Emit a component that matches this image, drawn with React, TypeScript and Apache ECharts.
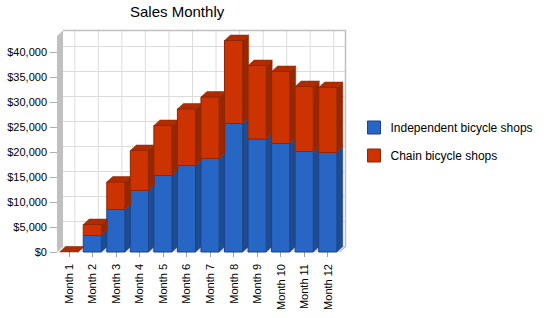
import React, { useEffect, useRef } from 'react';
import * as echarts from 'echarts';

const months = ['Month 1', 'Month 2', 'Month 3', 'Month 4', 'Month 5', 'Month 6', 'Month 7', 'Month 8', 'Month 9', 'Month 10', 'Month 11', 'Month 12'];
const independentShops = [0, 3300, 8500, 12300, 15300, 17300, 18700, 25700, 22600, 21700, 20100, 19900];
const chainShops = [0, 2200, 5500, 8000, 10000, 11300, 12300, 16600, 14700, 14400, 13000, 13000];
const yTicks = [0, 5000, 10000, 15000, 20000, 25000, 30000, 35000, 40000];
const Y_MAX = 43200;

const DX = 6;
const DY = 5.5;
const FONT = '"Liberation Sans", Arial, sans-serif';

const BLUE = { front: '#2866C6', side: '#1F4B90', top: '#2458AA', edge: '#1A438A' };
const RED = { front: '#CC3300', side: '#952800', top: '#B02C00', edge: '#932500' };

function barRenderer(c: any, drawTop: boolean) {
  return (params: any, api: any) => {
    const i = api.value(0);
    const base = api.value(1);
    const topV = api.value(2);
    const band = api.size([1, 0])[0];
    const w = band * 0.77;
    const p0 = api.coord([i, base]);
    const p1 = api.coord([i, topV]);
    const cx = p0[0];
    const yb = p0[1];
    const yt = p1[1];
    const x0 = cx - w / 2;
    const x1 = cx + w / 2;
    const children: any[] = [];
    children.push({
      type: 'polygon',
      shape: { points: [[x1, yt], [x1 + DX, yt - DY], [x1 + DX, yb - DY], [x1, yb]] },
      style: { fill: c.side, stroke: c.edge, lineWidth: 0.5 },
    });
    if (drawTop) {
      children.push({
        type: 'polygon',
        shape: { points: [[x0, yt], [x0 + DX, yt - DY], [x1 + DX, yt - DY], [x1, yt]] },
        style: { fill: c.top, stroke: c.edge, lineWidth: 0.5 },
      });
    }
    if (yb - yt > 0.5) {
      children.push({
        type: 'rect',
        shape: { x: x0, y: yt, width: w, height: yb - yt },
        style: { fill: c.front, stroke: c.edge, lineWidth: 1 },
      });
    }
    return { type: 'group', children };
  };
}

function wallRenderer(params: any, api: any) {
  const band = api.size([1, 0])[0];
  const n = months.length;
  const left = api.coord([0, 0])[0] - band / 2;
  const right = api.coord([n - 1, 0])[0] + band / 2;
  const bottom = api.coord([0, 0])[1];
  const top = api.coord([0, Y_MAX])[1];
  const children: any[] = [];
  children.push({
    type: 'polygon',
    shape: { points: [[left, bottom], [left + DX, bottom - DY], [right + DX, bottom - DY], [right, bottom]] },
    style: { fill: '#E6E6E6' },
  });
  children.push({
    type: 'rect',
    shape: { x: left + DX, y: top - DY, width: right - left, height: bottom - top },
    style: { fill: '#FFFFFF' },
  });
  yTicks.forEach((v) => {
    const y = api.coord([0, v])[1] - DY;
    children.push({
      type: 'line',
      shape: { x1: left + DX, y1: y, x2: right + DX, y2: y },
      style: { stroke: '#DCDCDC', lineWidth: 1 },
    });
  });
  months.forEach((m, i) => {
    const x = api.coord([i, 0])[0] + DX;
    children.push({
      type: 'line',
      shape: { x1: x, y1: top - DY, x2: x, y2: bottom - DY },
      style: { stroke: '#DCDCDC', lineWidth: 1 },
    });
  });
  children.push({
    type: 'polyline',
    shape: { points: [[left + DX, top - DY], [right + DX, top - DY], [right + DX, bottom - DY], [right, bottom]] },
    style: { stroke: '#C0C0C0', lineWidth: 1.5, fill: 'none' },
  });
  children.push({
    type: 'polygon',
    shape: { points: [[left, top], [left + DX, top - DY], [left + DX, bottom - DY], [left, bottom]] },
    style: { fill: '#C0C0C0' },
  });
  return { type: 'group', children };
}

export default function App() {
  const ref = useRef<HTMLDivElement>(null);
  useEffect(() => {
    if (!ref.current) return;
    const chart = echarts.init(ref.current, null, { renderer: 'svg' });
    chart.setOption({
      animation: false,
      backgroundColor: '#FFFFFF',
      title: {
        text: 'Sales Monthly',
        left: 130,
        top: 4,
        padding: 0,
        textStyle: { fontFamily: FONT, fontSize: 15, fontWeight: 'normal', color: '#000' },
      },
      legend: {
        orient: 'vertical',
        left: 367,
        top: 120.5,
        padding: 0,
        itemWidth: 13,
        itemHeight: 13,
        itemGap: 14,
        icon: 'rect',
        textStyle: { fontFamily: FONT, fontSize: 12, color: '#000', padding: [0, 0, 0, 5] },
        data: [
          { name: 'Independent bicycle shops', itemStyle: { color: BLUE.front, borderColor: BLUE.edge, borderWidth: 1 } },
          { name: 'Chain bicycle shops', itemStyle: { color: RED.front, borderColor: RED.edge, borderWidth: 1 } },
        ],
      },
      grid: { left: 57, right: 210.5, top: 36, bottom: 66, containLabel: false },
      xAxis: {
        type: 'category',
        data: months,
        boundaryGap: true,
        axisLine: { show: false },
        axisTick: { show: true, alignWithLabel: true, length: 5, lineStyle: { color: '#A0A0A0' } },
        splitLine: { show: false },
        axisLabel: { rotate: 90, margin: 12, fontFamily: FONT, fontSize: 11, color: '#000', interval: 0 },
      },
      yAxis: {
        type: 'value',
        min: 0,
        max: Y_MAX,
        interval: 5000,
        axisLine: { show: false },
        axisTick: { show: true, length: 7, lineStyle: { color: '#B0B0B0' }, customValues: yTicks },
        splitLine: { show: false },
        axisLabel: {
          margin: 10,
          fontFamily: FONT,
          fontSize: 11,
          color: '#000',
          customValues: yTicks,
          formatter: (v: number) => '$' + v.toLocaleString('en-US'),
        },
      },
      series: [
        {
          name: 'walls',
          type: 'custom',
          coordinateSystem: 'cartesian2d',
          renderItem: wallRenderer,
          data: [[0, 0]],
          silent: true,
          z: 1,
        },
        {
          name: 'Independent bicycle shops',
          type: 'custom',
          coordinateSystem: 'cartesian2d',
          renderItem: barRenderer(BLUE, false),
          encode: { x: 0, y: [1, 2] },
          itemStyle: { color: BLUE.front },
          data: months.map((m, i) => [i, 0, independentShops[i]]),
          z: 2,
        },
        {
          name: 'Chain bicycle shops',
          type: 'custom',
          coordinateSystem: 'cartesian2d',
          renderItem: barRenderer(RED, true),
          encode: { x: 0, y: [1, 2] },
          itemStyle: { color: RED.front },
          data: months.map((m, i) => [i, independentShops[i], independentShops[i] + chainShops[i]]),
          z: 3,
        },
      ],
    });
    return () => chart.dispose();
  }, []);
  return <div ref={ref} style={{ position: 'fixed', left: 0, top: 0, width: 550, height: 318 }} />;
}
